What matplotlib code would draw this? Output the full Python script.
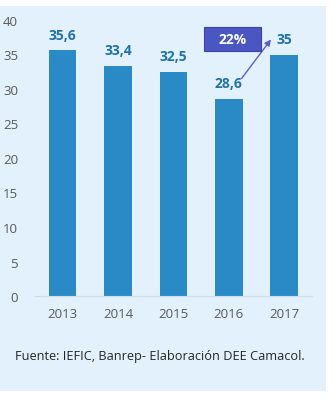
import matplotlib
matplotlib.use('Agg')
import matplotlib.pyplot as plt
from matplotlib.patches import Rectangle

# Data
years = ['2013', '2014', '2015', '2016', '2017']
values = [35.6, 33.4, 32.5, 28.6, 35.0]
value_labels = ['35,6', '33,4', '32,5', '28,6', '35']
growth_label = '22%'
source = 'Fuente: IEFIC, Banrep- Elaboración DEE Camacol.'

plt.rcParams['font.family'] = ['Open Sans', 'DejaVu Sans']

fig = plt.figure(figsize=(3.34, 4.02), dpi=100)
fig.patch.set_facecolor('white')
# light blue panel behind everything
fig.patches.append(Rectangle((0, 10 / 402), 326 / 334, 385 / 402,
                             transform=fig.transFigure, facecolor='#e2f1fb',
                             edgecolor='none', zorder=-5))

ax = fig.add_axes([34.75 / 334, 105 / 402, (312 - 34.75) / 334, 276 / 402])
ax.set_facecolor('none')

x = range(len(years))
bars = ax.bar(x, values, width=0.5, color='#2a8ac6', zorder=2)

ax.set_xlim(-0.5, 4.5)
ax.set_ylim(0, 40)
ax.set_yticks(range(0, 41, 5))
ax.set_xticks(list(x))
ax.set_xticklabels(years)
ax.tick_params(length=0, colors='#595959', labelsize=9.5)
ax.tick_params(axis='x', pad=8)
ax.tick_params(axis='y', pad=12)
for s in ['top', 'right', 'left']:
    ax.spines[s].set_visible(False)
ax.spines['bottom'].set_color('#d0dde6')

for i, (v, lab) in enumerate(zip(values, value_labels)):
    ax.annotate(lab, (i, v), xytext=(0, 6), textcoords='offset points',
                ha='center', va='bottom', fontsize=10, fontweight='bold',
                color='#1f72aa')

# growth box and arrow from 2016 to 2017
ax.annotate('', xy=(3.79, 37.5), xytext=(3.2, 31.2),
            arrowprops=dict(arrowstyle='-|>', color='#5b5fc4', lw=1,
                            mutation_scale=9))
ax.add_patch(Rectangle((2.55, 35.5), 1.03, 3.5, facecolor='#4a56c2',
                       edgecolor='#3a44a0', lw=0.8, zorder=3, clip_on=False))
ax.text(3.065, 37.25, growth_label, ha='center', va='center', fontsize=10,
        fontweight='bold', color='white', zorder=4)

fig.text(15 / 334, 1 - 357 / 402, source, ha='left', va='center',
         fontsize=9.2, color='#262626')

fig.savefig('out.png', dpi=100)
